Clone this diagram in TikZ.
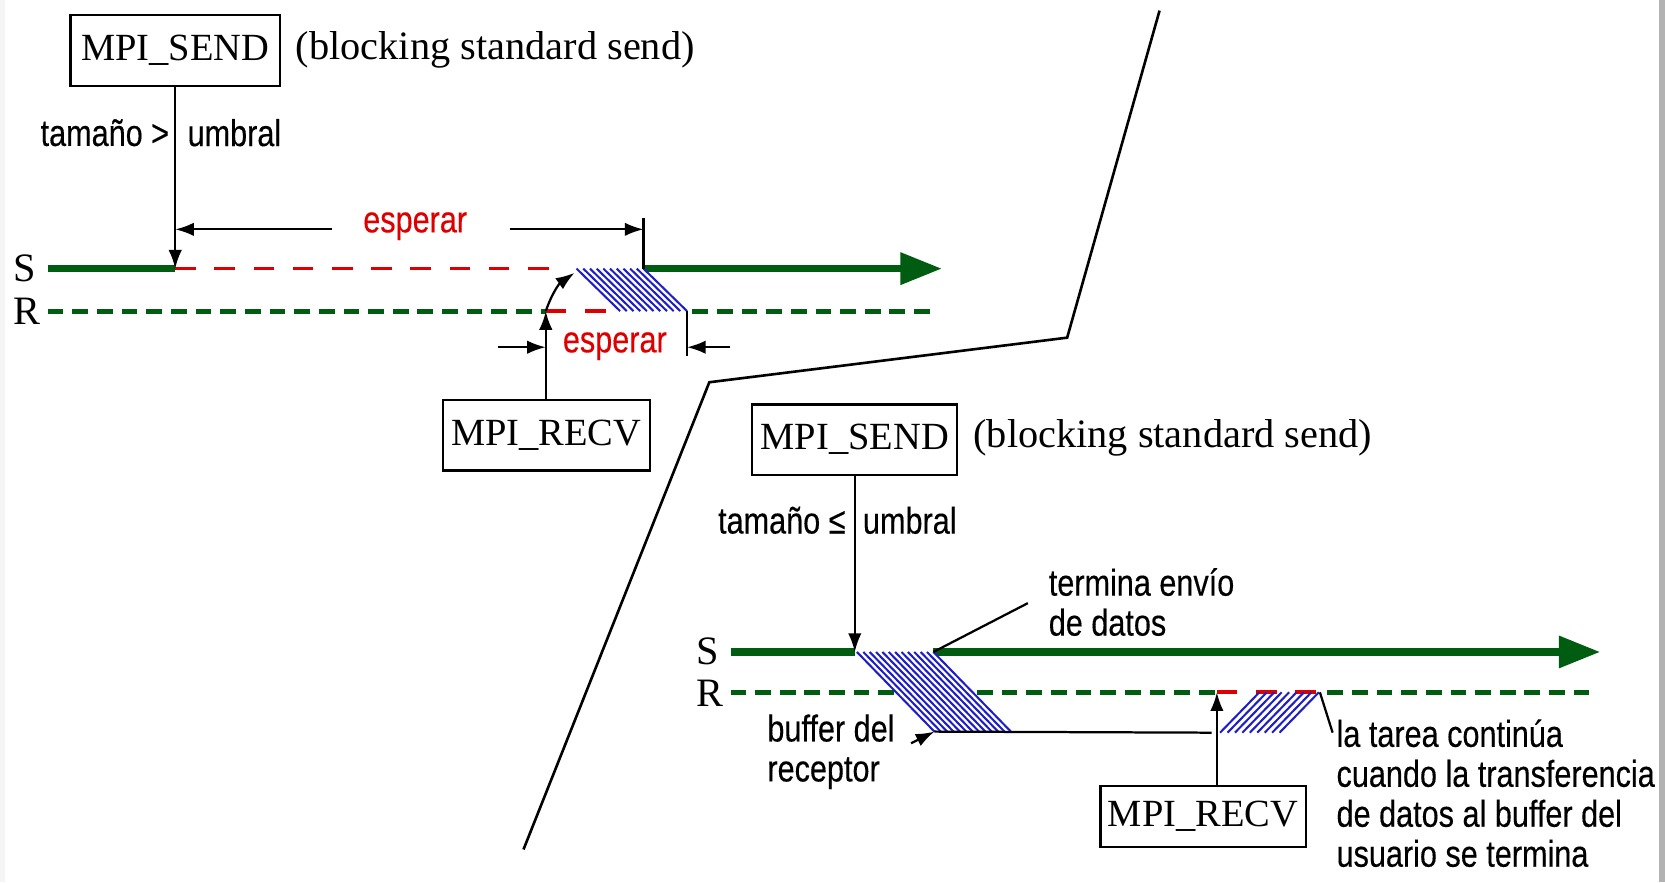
\documentclass[tikz,border=0pt]{standalone}
\usepackage{fontspec}
\setmainfont{Liberation Serif}
\newfontfamily\sansf{Liberation Sans}[FakeStretch=0.82,FakeBold=0.3]
\usetikzlibrary{arrows.meta}
\definecolor{dgreen}{RGB}{0,92,16}
\definecolor{dred}{RGB}{222,0,0}
\definecolor{hblue}{RGB}{30,30,200}
\begin{document}
\begin{tikzpicture}[x=0.01cm,y=-0.01cm,
  box/.style={draw,line width=0.6pt,inner sep=0,font=\fontsize{10.3}{12}\selectfont},
  serif/.style={inner sep=0,font=\fontsize{10.8}{12}\selectfont},
  lab/.style={inner sep=0,align=left,font=\sansf\fontsize{10}{10.7}\selectfont},
  redlab/.style={lab,text=dred},
  conn/.style={line width=0.6pt,-{Latex[length=5pt,width=3.6pt]}},
  thinl/.style={line width=0.6pt},
  sline/.style={dgreen,line width=1.9pt},
  sarrow/.style={sline,-{Triangle[length=0.39cm,width=0.29cm]}},
  rline/.style={dgreen,line width=1.3pt,dash pattern=on 4.2pt off 2.4pt},
  redS/.style={dred,line width=0.9pt,dash pattern=on 5.5pt off 5pt},
  redR/.style={dred,line width=1.1pt,dash pattern=on 5.5pt off 5pt},
  hatch/.style={hblue,line width=0.55pt},
]
% background and frame
\fill[white] (0,0) rectangle (1568,831);
\fill[gray!8] (0,0) rectangle (5,831);
\fill[gray!60] (1562,0) rectangle (1568,831);
\useasboundingbox (0,0) rectangle (1568,831);

% ================= top-left scenario =================
\node[box,minimum width=1.97cm,minimum height=0.67cm] (send1) at (165,47.5) {MPI\_SEND};
\node[serif,anchor=west] (blk1) at (278,47) {(blocking standard send)};
\node[lab,anchor=east] (t1a) at (160,125) {tamaño >};
\node[lab,anchor=west] (t1b) at (176,125) {umbral};
\node[serif,anchor=west] (S1) at (12,253) {S};
\node[serif,anchor=west] (R1) at (12,293) {R};

\coordinate (s1start) at (45,253);
\coordinate (s1call) at (165,253);
\coordinate (s1red) at (532,253);
\coordinate (h1tl) at (543,253);
\coordinate (h1tr) at (606,253);
\coordinate (h1br) at (647,293);
\coordinate (h1bl) at (584,293);
\coordinate (s1end) at (887,253);
\coordinate (r1start) at (45,293);
\coordinate (r1call) at (514,293);
\coordinate (r1red) at (582,293);
\coordinate (r1res) at (652,293);
\coordinate (r1end) at (880,293);

\draw[rline] (r1start) -- (r1call);
\draw[redR] (r1call) -- (r1red);
\draw[rline] (r1res) -- (r1end);
\draw[sline] (s1start) -- (s1call);
\draw[redS] (s1call) -- (s1red);
\draw[sarrow] (h1tr) -- (s1end);
\fill[white] (h1tl) -- (h1tr) -- (h1br) -- (h1bl) -- cycle;
\foreach \k in {0,...,10} \draw[hatch] ({543+\k*6.3},253) -- ({584+\k*6.3},293);

\draw[conn] (send1.south) -- (s1call);

% upper wait dimension
\coordinate (tick1) at (606,205);
\coordinate (d1l) at (313,216);
\coordinate (d1r) at (480,216);
\draw[thinl] (h1tr) -- (tick1);
\draw[conn] (d1l) -- (d1l -| s1call);
\draw[conn] (d1r) -- (d1r -| h1tr);
\node[redlab] (esp1) at (391,213) {esperar};

% receive
\node[box,minimum width=1.95cm,minimum height=0.66cm] (recv1) at (514.5,410) {MPI\_RECV};
\draw[conn] (recv1.north -| r1call) -- (r1call);
\coordinate (curvend) at (541,257);
\draw[conn] (r1call) to[bend left=18] (curvend);

% lower wait dimension
\coordinate (tick2) at (647,335);
\coordinate (d2l) at (469,327);
\coordinate (d2r) at (687,327);
\draw[thinl] (h1br) -- (tick2);
\draw[conn] (d2l) -- (d2l -| r1call);
\draw[conn] (d2r) -- (d2r -| h1br);
\node[redlab] (esp2) at (579,326) {esperar};

% ================= divider =================
\coordinate (dv1) at (1092,10);
\coordinate (dv2) at (1005,318);
\coordinate (dv3) at (668,360);
\coordinate (dv4) at (493,800);
\draw[line width=0.7pt] (dv1) -- (dv2) -- (dv3) -- (dv4);

% ================= bottom-right scenario =================
\node[box,minimum width=1.93cm,minimum height=0.66cm] (send2) at (805,414) {MPI\_SEND};
\node[serif,anchor=west] (blk2) at (916,412) {(blocking standard send)};
\node[lab,anchor=east] (t2a) at (797,490) {tamaño ≤};
\node[lab,anchor=west] (t2b) at (812,490) {umbral};
\node[serif,anchor=west] (S2) at (655,613) {S};
\node[serif,anchor=west] (R2) at (655,653) {R};

\coordinate (s2start) at (688,614);
\coordinate (s2call) at (805,614);
\coordinate (h2tl) at (807,614);
\coordinate (h2tr) at (879,614);
\coordinate (h2br) at (952,689);
\coordinate (h2bl) at (880,689);
\coordinate (s2end) at (1507,614);
\coordinate (r2start) at (688,652);
\coordinate (r2call) at (1146,652);
\coordinate (r2red) at (1243,652);
\coordinate (r2res) at (1250,652);
\coordinate (r2end) at (1500,652);

\draw[rline] (r2start) -- (r2call);
\draw[redR] (r2call) -- (r2red);
\draw[rline] (r2res) -- (r2end);
\draw[sline] (s2start) -- (s2call);
\draw[sarrow] (h2tr) -- (s2end);
\fill[white] (h2tl) -- (h2tr) -- (h2br) -- (h2bl) -- cycle;
\foreach \k in {0,...,12} \draw[hatch] ({807+\k*6},614) -- ({880+\k*6},689);
\draw[conn] (send2.south) -- (s2call);

% receiver buffer line
\coordinate (buf2) at (1141,690);
\coordinate (bufptr) at (858,700);
\draw[thinl] (h2bl) -- (buf2);
\draw[conn] (bufptr) -- (h2bl);
\node[lab,anchor=west] (bufl) at (722,708) {buffer del\\receptor};

% termina envio
\node[lab,anchor=west] (term) at (987,567) {termina envío\\de datos};
\coordinate (termptr) at (968,568);
\draw[thinl] (h2tr) -- (termptr);

% small hatch (copy to user buffer)
\foreach \k in {0,...,8} \draw[hatch] ({1149+\k*7},690) -- ({1186+\k*7},652);

% receive 2
\node[box,minimum width=1.93cm,minimum height=0.58cm] (recv2) at (1133,769) {MPI\_RECV};
\draw[conn] (recv2.north -| r2call) -- (r2call);

% note
\coordinate (noteptr) at (1255,690);
\draw[thinl] (r2red) -- (noteptr);
\node[lab,anchor=west] (note) at (1258,747) {la tarea continúa\\cuando la transferencia\\de datos al buffer del\\usuario se termina};
\end{tikzpicture}
\end{document}
